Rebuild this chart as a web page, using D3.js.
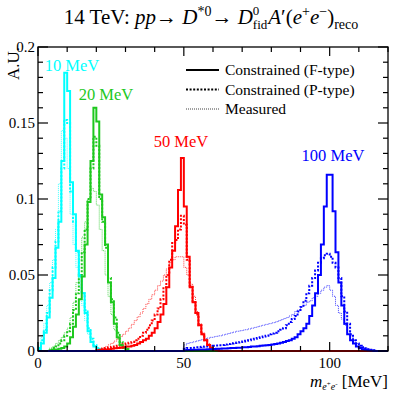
<!DOCTYPE html>
<html>
<head>
<meta charset="utf-8">
<script src="https://cdn.jsdelivr.net/npm/d3@7"></script>
<style>
  body { margin: 0; background: #fff; }
  text { font-family: "Liberation Serif", "DejaVu Serif", serif; }
</style>
</head>
<body>
<svg id="chart" width="399" height="399"></svg>
<script>
// histogram contents, 1 MeV bins, first bin given by the *Start value
const binEdges = [0, 120];

const cyanStart = 0;
const cyanF = [0.001, 0.005, 0.012, 0.022, 0.035, 0.048, 0.068, 0.085, 0.125, 0.183, 0.171, 0.111, 0.09, 0.066, 0.049, 0.038, 0.025, 0.013, 0.006, 0.003, 0.0015, 0.0008];
const cyanP = [0.002, 0.007, 0.014, 0.025, 0.04, 0.055, 0.072, 0.092, 0.12, 0.152, 0.15, 0.105, 0.085, 0.065, 0.05, 0.038, 0.027, 0.015, 0.008, 0.004, 0.002, 0.001];
const cyanM = [0.003, 0.009, 0.018, 0.03, 0.045, 0.06, 0.08, 0.11, 0.145, 0.14, 0.12, 0.09, 0.07, 0.055, 0.042, 0.03, 0.02, 0.011, 0.006, 0.003, 0.0015, 0.0008];

const greenStart = 4;
const greenF = [0.0005, 0.0008, 0.001, 0.0015, 0.002, 0.003, 0.005, 0.009, 0.016, 0.024, 0.034, 0.049, 0.07, 0.098, 0.125, 0.16, 0.151, 0.103, 0.088, 0.07, 0.045, 0.032, 0.018, 0.009, 0.004, 0.002, 0.001];
const greenP = [0.001, 0.002, 0.003, 0.005, 0.007, 0.01, 0.013, 0.018, 0.027, 0.038, 0.05, 0.065, 0.08, 0.1, 0.12, 0.141, 0.135, 0.1, 0.085, 0.068, 0.048, 0.034, 0.022, 0.012, 0.006, 0.003, 0.0015];
const greenM = [0.002, 0.003, 0.005, 0.007, 0.009, 0.012, 0.015, 0.022, 0.032, 0.045, 0.06, 0.075, 0.085, 0.1, 0.107, 0.105, 0.096, 0.08, 0.066, 0.05, 0.036, 0.024, 0.014, 0.008, 0.004, 0.002, 0.001];

const redStart = 20;
const redF = [0.0005, 0.0008, 0.001, 0.001, 0.0012, 0.0015, 0.0018, 0.002, 0.0022, 0.0025,
  0.003, 0.003, 0.0035, 0.004, 0.005, 0.006, 0.007, 0.008, 0.01, 0.012,
  0.015, 0.019, 0.024, 0.031, 0.042, 0.055, 0.066, 0.082, 0.106, 0.127,
  0.095, 0.062, 0.042, 0.032, 0.025, 0.017, 0.011, 0.007, 0.004, 0.002, 0.001, 0.0005];
const redP = [0.001, 0.0013, 0.0016, 0.002, 0.0023, 0.0027, 0.003, 0.0035, 0.004, 0.0045,
  0.005, 0.0055, 0.006, 0.007, 0.008, 0.01, 0.012, 0.014, 0.017, 0.02,
  0.024, 0.028, 0.034, 0.042, 0.05, 0.06, 0.071, 0.073, 0.08, 0.089,
  0.083, 0.06, 0.043, 0.032, 0.024, 0.017, 0.011, 0.007, 0.004, 0.002, 0.001, 0.0005];
const redM = [0.0005, 0.001, 0.002, 0.003, 0.004, 0.005, 0.0065, 0.008, 0.0095, 0.011,
  0.013, 0.015, 0.0175, 0.02, 0.0225, 0.025, 0.028, 0.031, 0.034, 0.037,
  0.04, 0.043, 0.046, 0.05, 0.054, 0.058, 0.06, 0.062, 0.062, 0.062,
  0.055, 0.05, 0.044, 0.036, 0.026, 0.018, 0.012, 0.008, 0.005, 0.003, 0.0015, 0.0008];

const blueStart = 50;
const blueF = [0.0005, 0.0006, 0.0007, 0.0008, 0.0009, 0.001, 0.001, 0.001, 0.0012, 0.0012,
  0.0013, 0.0014, 0.0015, 0.0016, 0.0017, 0.0018, 0.002, 0.002, 0.0021, 0.0022,
  0.0024, 0.0025, 0.0027, 0.0029, 0.003, 0.0032, 0.0034, 0.0036, 0.0038, 0.004,
  0.0043, 0.0046, 0.005, 0.0055, 0.006, 0.0065, 0.007, 0.008, 0.009, 0.011,
  0.013, 0.015, 0.018, 0.023, 0.03, 0.038, 0.05, 0.07, 0.095, 0.116,
  0.116, 0.092, 0.065, 0.045, 0.03, 0.018, 0.011, 0.007, 0.005, 0.003,
  0.002, 0.0012, 0.0008, 0.0005, 0.0003];
const blueP = [0.0015, 0.002, 0.002, 0.0022, 0.0024, 0.0026, 0.0028, 0.003, 0.003, 0.0032,
  0.0034, 0.0036, 0.0038, 0.004, 0.0043, 0.0046, 0.005, 0.0053, 0.0056, 0.006,
  0.0063, 0.0067, 0.007, 0.0075, 0.008, 0.0085, 0.009, 0.0095, 0.01, 0.011,
  0.0115, 0.012, 0.013, 0.014, 0.015, 0.017, 0.019, 0.021, 0.023, 0.026,
  0.029, 0.033, 0.038, 0.043, 0.048, 0.053, 0.058, 0.061, 0.063, 0.064,
  0.062, 0.058, 0.055, 0.048, 0.036, 0.026, 0.018, 0.011, 0.007, 0.005,
  0.0035, 0.0025, 0.0018, 0.0012, 0.0008, 0.0005];
const blueM = [0.004, 0.005, 0.0055, 0.006, 0.0065, 0.007, 0.0075, 0.008, 0.0085, 0.009,
  0.0093, 0.0097, 0.01, 0.0105, 0.011, 0.0115, 0.012, 0.0125, 0.013, 0.0133,
  0.0137, 0.014, 0.0145, 0.015, 0.0155, 0.016, 0.0165, 0.017, 0.0175, 0.018,
  0.0185, 0.019, 0.0197, 0.0205, 0.0213, 0.022, 0.023, 0.024, 0.026, 0.027,
  0.029, 0.03, 0.032, 0.033, 0.035, 0.036, 0.038, 0.04, 0.042, 0.043,
  0.04, 0.036, 0.03, 0.025, 0.021, 0.017, 0.013, 0.01, 0.007, 0.005,
  0.0035, 0.0025, 0.002, 0.0013, 0.0008, 0.0005];

const massLabels = ["10 MeV", "20 MeV", "50 MeV", "100 MeV"];
const massLabelPos = [[72, 71], [106, 100], [181, 147], [333, 161]];   // [x, baseline] in px
const xTickLabels = [0, 50, 100];
const yTickLabels = [0, 0.05, 0.1, 0.15, 0.2];
const legendLabels = ["Constrained (F-type)", "Constrained (P-type)", "Measured"];

const colors = ["#00ffff", "#1ec81e", "#ff0000", "#0000ff"];

const svg = d3.select("#chart");
const W = 399, H = 399;
const margin = {left: 38, right: 11, top: 47, bottom: 48};
const x0 = margin.left, x1 = W - margin.right, y0 = H - margin.bottom, y1 = margin.top;

const x = d3.scaleLinear().domain(binEdges).range([x0, x1]);
const y = d3.scaleLinear().domain([0, 0.2]).range([y0, y1]);

const nBins = binEdges[1] - binEdges[0];

function fullHist(start, vals) {
  const out = [];
  for (let i = 0; i < nBins; i++) {
    const k = i - start;
    out.push(k >= 0 && k < vals.length ? vals[k] : 0);
  }
  return out;
}

function stepPoints(h) {
  const pts = [];
  h.forEach((v, i) => { pts.push([x(i), y(v)]); pts.push([x(i + 1), y(v)]); });
  return pts;
}

const line = d3.line();

const groups = [
  {start: cyanStart, f: cyanF, p: cyanP, m: cyanM},
  {start: greenStart, f: greenF, p: greenP, m: greenM},
  {start: redStart, f: redF, p: redP, m: redM},
  {start: blueStart, f: blueF, p: blueP, m: blueM}
];

const styles = {
  f: {w: 2, dash: null, op: 1},
  p: {w: 2, dash: "2,1.6", op: 1},
  m: {w: 1, dash: "1,1", op: 0.75}
};

const plot = svg.append("g");

["m", "p", "f"].forEach(kind => {
  groups.forEach((g, gi) => {
    plot.append("path")
      .attr("d", line(stepPoints(fullHist(g.start, g[kind]))))
      .attr("fill", "none")
      .attr("stroke", colors[gi])
      .attr("stroke-width", styles[kind].w)
      .attr("stroke-dasharray", styles[kind].dash)
      .attr("stroke-opacity", styles[kind].op);
  });
});

// frame
svg.append("rect")
  .attr("x", x0).attr("y", y1)
  .attr("width", x1 - x0).attr("height", y0 - y1)
  .attr("fill", "none").attr("stroke", "#000").attr("stroke-width", 1.3);

// ticks (inward, all sides)
const ticks = svg.append("g").attr("stroke", "#000").attr("stroke-width", 1.2);
d3.range(0, 121, 10).forEach(v => {
  const len = v % 50 === 0 ? 9 : 5;
  ticks.append("line").attr("x1", x(v)).attr("x2", x(v)).attr("y1", y0).attr("y2", y0 - len);
  ticks.append("line").attr("x1", x(v)).attr("x2", x(v)).attr("y1", y1).attr("y2", y1 + len);
});
d3.range(0, 21).forEach(k => {
  const v = k / 100;
  const len = k % 5 === 0 ? 10 : 5;
  ticks.append("line").attr("y1", y(v)).attr("y2", y(v)).attr("x1", x0).attr("x2", x0 + len);
  ticks.append("line").attr("y1", y(v)).attr("y2", y(v)).attr("x1", x1).attr("x2", x1 - len);
});

// tick labels
svg.append("g").selectAll("text").data(xTickLabels).join("text")
  .attr("x", d => x(d)).attr("y", y0 + 17)
  .attr("text-anchor", "middle").attr("font-size", 15)
  .text(d => d);
svg.append("g").selectAll("text").data(yTickLabels).join("text")
  .attr("x", x0 - 3).attr("y", d => y(d) + 5)
  .attr("text-anchor", "end").attr("font-size", 15)
  .text(d => d);

// axis titles
svg.append("text")
  .attr("transform", `translate(19,${y1}) rotate(-90)`)
  .attr("text-anchor", "end").attr("font-size", 17)
  .text("A.U.");

const xt = svg.append("text").attr("x", x1).attr("y", 387)
  .attr("text-anchor", "end").attr("font-size", 17);
xt.append("tspan").attr("font-style", "italic").text("m");
xt.append("tspan").attr("font-style", "italic").attr("font-size", 10).attr("dy", 3).text("e");
xt.append("tspan").attr("font-size", 7).attr("dy", -4).text("+");
xt.append("tspan").attr("font-style", "italic").attr("font-size", 10).attr("dy", 4).text("e");
xt.append("tspan").attr("font-size", 7).attr("dy", -4).text("-");
xt.append("tspan").attr("dy", 1).text(" [MeV]");

// title
const tt = svg.append("text").attr("x", 211).attr("y", 24)
  .attr("text-anchor", "middle").attr("font-size", 21);
tt.append("tspan").text("14 TeV:  ");
tt.append("tspan").attr("font-style", "italic").text("pp");
tt.append("tspan").text("\u2192 ");
tt.append("tspan").attr("font-style", "italic").text("D");
tt.append("tspan").attr("font-size", 14).attr("dy", -8).text("*0");
tt.append("tspan").attr("dy", 8).text("\u2192 ");
tt.append("tspan").attr("font-style", "italic").text("D");
tt.append("tspan").attr("font-size", 13).attr("dy", -9).text("0");
tt.append("tspan").attr("font-size", 13).attr("dx", -6.5).attr("dy", 14).text("fid");
tt.append("tspan").attr("font-style", "italic").attr("dx", 1).attr("dy", -5).text("A");
tt.append("tspan").text("\u2032(");
tt.append("tspan").attr("font-style", "italic").text("e");
tt.append("tspan").attr("font-size", 14).attr("dy", -8).text("+");
tt.append("tspan").attr("font-style", "italic").attr("dy", 8).text("e");
tt.append("tspan").attr("font-size", 14).attr("dy", -8).text("\u2212");
tt.append("tspan").attr("dy", 8).text(")");
tt.append("tspan").attr("font-size", 14).attr("dy", 5).text("reco");

// legend
const legY = [70, 89.5, 109];
legendLabels.forEach((lab, i) => {
  const st = styles[["f", "p", "m"][i]];
  svg.append("line")
    .attr("x1", 186).attr("x2", 219).attr("y1", legY[i]).attr("y2", legY[i])
    .attr("stroke", "#000").attr("stroke-width", st.w)
    .attr("stroke-dasharray", st.dash).attr("stroke-opacity", st.op);
  svg.append("text").attr("x", 225).attr("y", legY[i] + 5)
    .attr("font-size", 15.5).text(lab);
});

// mass labels
massLabels.forEach((lab, i) => {
  svg.append("text")
    .attr("x", massLabelPos[i][0]).attr("y", massLabelPos[i][1])
    .attr("text-anchor", "middle").attr("font-size", 16.5)
    .attr("fill", colors[i]).text(lab);
});
</script>
</body>
</html>
